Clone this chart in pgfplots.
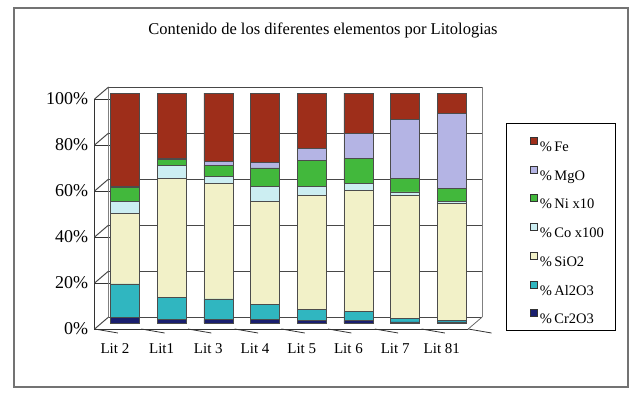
\documentclass[border=0pt]{standalone}
\usepackage{pgfplots}
\pgfplotsset{compat=1.18}
\usepackage{pgfplotstable}
\usepackage{fontspec}
\setmainfont{Liberation Serif}

\definecolor{cFe}{RGB}{158,46,26}
\definecolor{cMg}{RGB}{180,180,228}
\definecolor{cNi}{RGB}{66,184,60}
\definecolor{cCo}{RGB}{204,238,242}
\definecolor{cSi}{RGB}{242,241,200}
\definecolor{cAl}{RGB}{48,182,192}
\definecolor{cCr}{RGB}{25,30,110}

% Composition of each lithology (percent of the stacked column)
\pgfplotstableread{
lit Cr  Al   Si   Co  Ni   Mg   Fe
0   2.5 14.5 30.6 5.4 6.0  0.5  40.5
1   1.5 9.5  52.0 5.5 2.5  0.5  28.5
2   1.5 9.0  50.2 3.1 4.8  1.7  29.7
3   1.5 6.5  45.0 6.5 8.0  2.5  30.0
4   1.0 5.0  49.5 3.9 11.3 5.3  24.0
5   1.0 4.0  52.6 3.1 10.9 10.9 17.5
6   0.5 1.5  53.5 1.5 6.0  25.6 11.4
7   0.5 0.8  50.7 1.0 5.5  32.5 9.0
}\lito

\pgfplotsset{
  cyl/.style={draw=black!70, line width=0.5pt, fill=#1},
}
\newcommand{\lentry}[1]{\makebox[50pt][l]{\rule[-12.25pt]{0pt}{35.5pt}#1}}

\begin{document}
\begin{tikzpicture}
\path (0,0) rectangle (632pt,392pt);
\draw[line width=1.4pt, black!55] (14pt,5pt) rectangle (628pt,384pt);
\node[font=\fontsize{16.5}{16.5}\selectfont] at (323pt,362pt)
  {Contenido de los diferentes elementos por Litologias};

\begin{axis}[
  at={(101.6pt,69pt)}, anchor=south west,
  scale only axis, width=373.6pt, height=230pt,
  xmin=-0.5, xmax=7.5, ymin=0, ymax=100, clip=false,
  ybar stacked, bar width=29pt,
  axis line style={draw=none}, tick style={draw=none},
  % gridlines sit on the back wall of the 3-D frame
  ymajorgrids, xmajorgrids=false,
  major grid style={draw=black!72, line width=1pt, xshift=7pt, yshift=6pt},
  xtick={0,...,7},
  xticklabels={Lit 2,Lit1,Lit 3,Lit 4,Lit 5,Lit 6,Lit 7,Lit 81},
  ytick={0,20,40,60,80,100},
  yticklabels={0\%,20\%,40\%,60\%,80\%,100\%},
  yticklabel style={font=\fontsize{18}{18}\selectfont, xshift=-10pt, yshift=-6pt},
  xticklabel style={font=\fontsize{15}{15}\selectfont, xshift=-10pt, yshift=-17pt},
  reverse legend,
  legend cell align=left,
  legend style={at={(1.0824,0.8696)}, anchor=north west, draw=black,
    line width=0.9pt, font=\fontsize{14.5}{14.5}\selectfont,
    row sep=0pt, inner xsep=24pt, inner ysep=2.75pt},
  legend image code/.code={\draw[#1, draw=black!80, line width=0.5pt]
    (0pt,-3.5pt) rectangle (7pt,3.5pt);},
]
\addplot[cyl=cCr] table[x=lit, y=Cr] {\lito};
\addlegendentry{\lentry{\%\,Cr2O3}}
\addplot[cyl=cAl] table[x=lit, y=Al] {\lito};
\addlegendentry{\lentry{\%\,Al2O3}}
\addplot[cyl=cSi] table[x=lit, y=Si] {\lito};
\addlegendentry{\lentry{\%\,SiO2}}
\addplot[cyl=cCo] table[x=lit, y=Co] {\lito};
\addlegendentry{\lentry{\%\,Co x100}}
\addplot[cyl=cNi] table[x=lit, y=Ni] {\lito};
\addlegendentry{\lentry{\%\,Ni x10}}
\addplot[cyl=cMg] table[x=lit, y=Mg] {\lito};
\addlegendentry{\lentry{\%\,MgO}}
\addplot[cyl=cFe] table[x=lit, y=Fe] {\lito};
\addlegendentry{\lentry{\%\,Fe}}

% left wall: slanted part of each gridline
\pgfplotsinvokeforeach{0,20,40,60,80,100}{
  \draw[black!72, line width=1pt]
    ([shift={(-7pt,-6pt)}]axis cs:-0.5,#1) -- ([shift={(7pt,6pt)}]axis cs:-0.5,#1);
}
% back wall edges and right floor edge
\draw[black!50, line width=0.7pt]
  ([shift={(7pt,6pt)}]axis cs:-0.5,0) -- ([shift={(7pt,6pt)}]axis cs:-0.5,100);
\draw[black!50, line width=0.7pt]
  ([shift={(7pt,6pt)}]axis cs:7.5,0) -- ([shift={(7pt,6pt)}]axis cs:7.5,100);
\draw[black!60, line width=0.8pt]
  ([shift={(-7pt,-6pt)}]axis cs:7.5,0) -- ([shift={(7pt,6pt)}]axis cs:7.5,0);

% front value axis and category axis
\draw[black!80, line width=0.8pt]
  ([shift={(-7pt,-6pt)}]axis cs:-0.5,100) -- ([shift={(-7pt,-6pt)}]axis cs:-0.5,0)
  -- ([shift={(-7pt,-6pt)}]axis cs:7.5,0);
\pgfplotsinvokeforeach{0,20,40,60,80,100}{
  \draw[black!80, line width=0.8pt]
    ([shift={(-7pt,-6pt)}]axis cs:-0.5,#1) -- ++(-4pt,0);
}
\pgfplotsinvokeforeach{-0.5,0.5,1.5,2.5,3.5,4.5,5.5,6.5,7.5}{
  \draw[black!80, line width=0.8pt]
    ([shift={(-7pt,-6pt)}]axis cs:#1,0) -- ++(0,-4pt);
}
\end{axis}
\end{tikzpicture}
\end{document}
